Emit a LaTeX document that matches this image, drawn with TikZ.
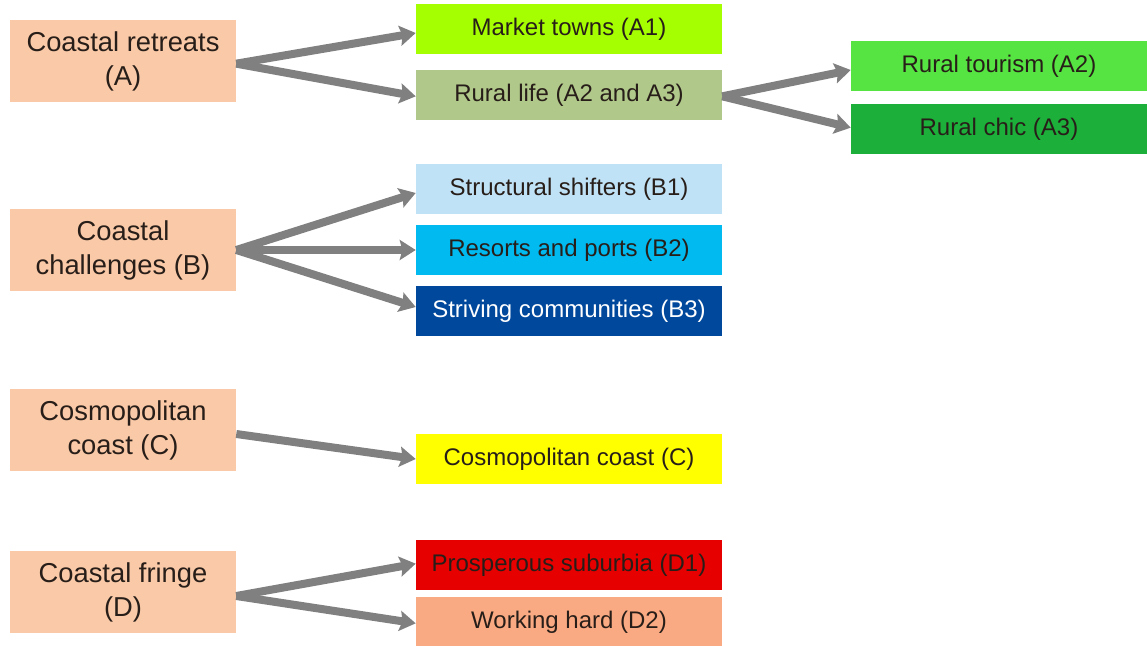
\documentclass[tikz,border=0pt]{standalone}
\usepackage{fontspec}
\setmainfont{Liberation Sans}
\usetikzlibrary{arrows.meta}
\definecolor{peach}{RGB}{250,202,168}
\definecolor{lime}{RGB}{166,255,0}
\definecolor{olive}{RGB}{176,200,138}
\definecolor{brightgreen}{RGB}{85,228,65}
\definecolor{darkgreen}{RGB}{28,176,58}
\definecolor{paleblue}{RGB}{192,226,246}
\definecolor{skyblue}{RGB}{0,186,240}
\definecolor{navy}{RGB}{0,72,156}
\definecolor{yel}{RGB}{255,255,0}
\definecolor{redbox}{RGB}{230,0,0}
\definecolor{salmon}{RGB}{250,170,130}
\definecolor{arrowgrey}{RGB}{128,128,128}
\definecolor{textdark}{RGB}{40,30,25}
\begin{document}
\begin{tikzpicture}[x=0.75pt,y=-0.75pt,
  lbox/.style={fill=peach, minimum width=169.5pt, minimum height=62pt, inner sep=0pt,
     align=center, text=textdark, font=\fontsize{20.5pt}{25.5pt}\selectfont},
  mbox/.style={minimum width=229.5pt, minimum height=37pt, inner sep=0pt,
     text=textdark, font=\fontsize{18pt}{22pt}\selectfont},
  rbox/.style={minimum width=222pt, minimum height=37.5pt, inner sep=0pt,
     text=textdark, font=\fontsize{18pt}{22pt}\selectfont},
  conn/.style={draw=arrowgrey, line width=6pt,
     -{Stealth[length=12pt, width=15pt, inset=2pt, fill=arrowgrey]}}
]
\useasboundingbox (0,0) rectangle (1147,646);

% left category boxes
\node[lbox] (A) at (123,61) {Coastal retreats\\(A)};
\node[lbox] (B) at (123,250) {Coastal\\challenges (B)};
\node[lbox] (C) at (123,430) {Cosmopolitan\\coast (C)};
\node[lbox] (D) at (123,592) {Coastal fringe\\(D)};

% middle boxes
\node[mbox, fill=lime] (A1) at (569,29) {Market towns (A1)};
\node[mbox, fill=olive] (A23) at (569,95) {Rural life (A2 and A3)};
\node[mbox, fill=paleblue] (B1) at (569,189) {Structural shifters (B1)};
\node[mbox, fill=skyblue] (B2) at (569,250) {Resorts and ports (B2)};
\node[mbox, fill=navy, text=white] (B3) at (569,311) {Striving communities (B3)};
\node[mbox, fill=yel] (C1) at (569,459) {Cosmopolitan coast (C)};
\node[mbox, fill=redbox] (D1) at (569,565) {Prosperous suburbia (D1)};
\node[mbox, fill=salmon] (D2) at (569,622) {Working hard (D2)};

% right boxes
\node[rbox, fill=brightgreen] (A2) at (999,66) {Rural tourism (A2)};
\node[rbox, fill=darkgreen] (A3) at (999,129) {Rural chic (A3)};

% connectors
\draw[conn] ([yshift=-2pt]A.east) -- ([yshift=-3pt]A1.west);
\draw[conn] ([yshift=-2pt]A.east) -- ([yshift=-1pt]A23.west);
\draw[conn] (B.east) -- ([yshift=-3pt]B1.west);
\draw[conn] (B.east) -- (B2.west);
\draw[conn] (B.east) -- ([yshift=3pt]B3.west);
\draw[conn] ([yshift=-3pt]C.east) -- (C1.west);
\draw[conn] ([yshift=-3pt]D.east) -- ([yshift=1pt]D1.west);
\draw[conn] ([yshift=-3pt]D.east) -- ([yshift=-1pt]D2.west);
\draw[conn] ([yshift=-1pt]A23.east) -- ([yshift=-3pt]A2.west);
\draw[conn] ([yshift=-1pt]A23.east) -- ([yshift=1pt]A3.west);
\end{tikzpicture}
\end{document}
